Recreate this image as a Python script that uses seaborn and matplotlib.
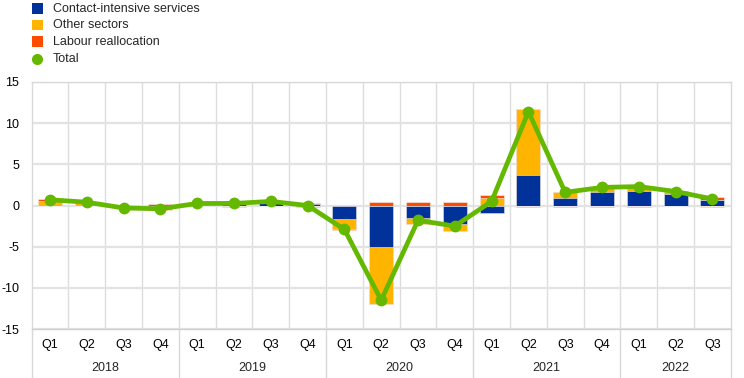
import numpy as np
import pandas as pd
import matplotlib
matplotlib.use("Agg")
import matplotlib.pyplot as plt
import seaborn as sns
from matplotlib.patches import Rectangle
from matplotlib.lines import Line2D
import matplotlib.transforms as mtrans

# ---------------- data ----------------
quarters = ["Q1", "Q2", "Q3", "Q4", "Q1", "Q2", "Q3", "Q4", "Q1", "Q2", "Q3", "Q4",
            "Q1", "Q2", "Q3", "Q4", "Q1", "Q2", "Q3"]
years = ["2018", "2019", "2020", "2021", "2022"]
year_quarter_counts = [4, 4, 4, 4, 3]

contact = [0.0, 0.0, -0.1, -0.2, 0.1, 0.3, 0.3, 0.2, -1.6, -5.1, -1.5, -2.3,
           -0.9, 3.7, 0.9, 1.7, 1.8, 1.4, 0.7]
other = [0.6, 0.3, -0.1, -0.3, 0.0, -0.2, 0.2, 0.1, -1.2, -6.9, -0.8, -0.8,
         0.9, 8.0, 0.8, 0.6, 0.6, 0.4, -0.2]
labour = [0.2, 0.1, 0.0, 0.15, 0.2, 0.2, 0.1, -0.2, -0.2, 0.4, 0.4, 0.4,
          0.4, -0.2, -0.2, -0.2, -0.2, -0.1, 0.3]
total = [0.7, 0.4, -0.3, -0.4, 0.25, 0.25, 0.5, 0.0, -2.9, -11.5, -1.8, -2.5,
         0.5, 11.4, 1.6, 2.2, 2.3, 1.7, 0.8]

series_names = ["Contact-intensive services", "Other sectors", "Labour reallocation", "Total"]
colors = ["#003299", "#FFB400", "#FF4B00", "#65B800"]

# ---------------- style ----------------
sns.set_theme(style="white")
plt.rcParams["font.family"] = ["Liberation Sans", "DejaVu Sans"]
plt.rcParams["font.size"] = 9

fig = plt.figure(figsize=(7.44, 3.78), dpi=100)
ax = fig.add_axes([31.6 / 744, 1 - 329 / 378, (730.8 - 31.6) / 744, (329 - 82) / 378])

pos = np.arange(len(quarters))
c = np.array(contact)
o = np.array(other)
l = np.array(labour)

# stacked bars (positive and negative stacks separately) via cumulative overlays
p1 = np.clip(c, 0, None)
p2 = p1 + np.clip(o, 0, None)
p3 = p2 + np.clip(l, 0, None)
n1 = np.clip(c, None, 0)
n2 = n1 + np.clip(o, None, 0)
n3 = n2 + np.clip(l, None, 0)

bw = 0.65
for vals, col in [(p3, colors[2]), (p2, colors[1]), (p1, colors[0]),
                  (n3, colors[2]), (n2, colors[1]), (n1, colors[0])]:
    df = pd.DataFrame({"x": pos, "y": vals})
    sns.barplot(data=df, x="x", y="y", native_scale=True, color=col, width=bw,
                saturation=1, edgecolor="#eef0f8", linewidth=0.4, ax=ax, zorder=2)

# total line
sns.lineplot(x=pos, y=total, color=colors[3], lw=3.4, marker="o", markersize=8.5,
             markeredgewidth=0, ax=ax, zorder=4)

# axes formatting
ax.set_xlim(-0.5, len(quarters) - 0.5)
ax.set_ylim(-15, 15)
ax.set_yticks([-15, -10, -5, 0, 5, 10, 15])
ax.set_yticklabels(["-15", "-10", "-5", "0", "5", "10", "15"])
ax.yaxis.grid(True, color="#e3e3e3", lw=1.6, zorder=0)
ax.xaxis.grid(False)
ax.set_axisbelow(True)
for k in range(len(quarters) - 1):
    ax.axvline(k + 0.5, color="#dddddd", lw=1.0, zorder=0.5)
for s in ax.spines.values():
    s.set_color("#d9d9d9")
    s.set_linewidth(1.0)
ax.spines["bottom"].set_color("#d0d0d0")
ax.set_xticks(pos)
ax.set_xticklabels(quarters)
ax.tick_params(axis="both", length=0, labelsize=9, colors="black")
ax.tick_params(axis="x", pad=7)
ax.tick_params(axis="y", pad=9)
ax.set_xlabel("")
ax.set_ylabel("")

# year labels and dividers
trans = mtrans.blended_transform_factory(ax.transData, ax.transAxes)
start = 0
ax_h = 329 - 82
for yr, n in zip(years, year_quarter_counts):
    center = start + (n - 1) / 2
    ax.text(center, -(368 - 329) / ax_h, yr, transform=trans, ha="center", va="center",
            fontsize=9)
    start += n
bounds = [-0.5] + list(np.cumsum(year_quarter_counts) - 0.5)
for b in bounds:
    ax.plot([b, b], [0, -(380 - 329) / ax_h], transform=trans, color="#d9d9d9",
            lw=1.0, clip_on=False)

# legend (drawn manually at top-left)
W, H = 744, 378
rows_y = [8.5, 25.2, 41.8, 58.5]
for i, (name, col) in enumerate(zip(series_names, colors)):
    yc = rows_y[i]
    if i < 3:
        fig.add_artist(Rectangle(((32) / W, 1 - (yc + 5.2) / H), 10.5 / W, 10.5 / H,
                                 transform=fig.transFigure, facecolor=col,
                                 edgecolor="none"))
    else:
        fig.add_artist(Line2D([37 / W], [1 - yc / H], marker="o", markersize=8,
                              color=col, markeredgewidth=0, transform=fig.transFigure))
    fig.text(53 / W, 1 - yc / H, name, ha="left", va="center", fontsize=9)

fig.savefig("out.png", dpi=100)
